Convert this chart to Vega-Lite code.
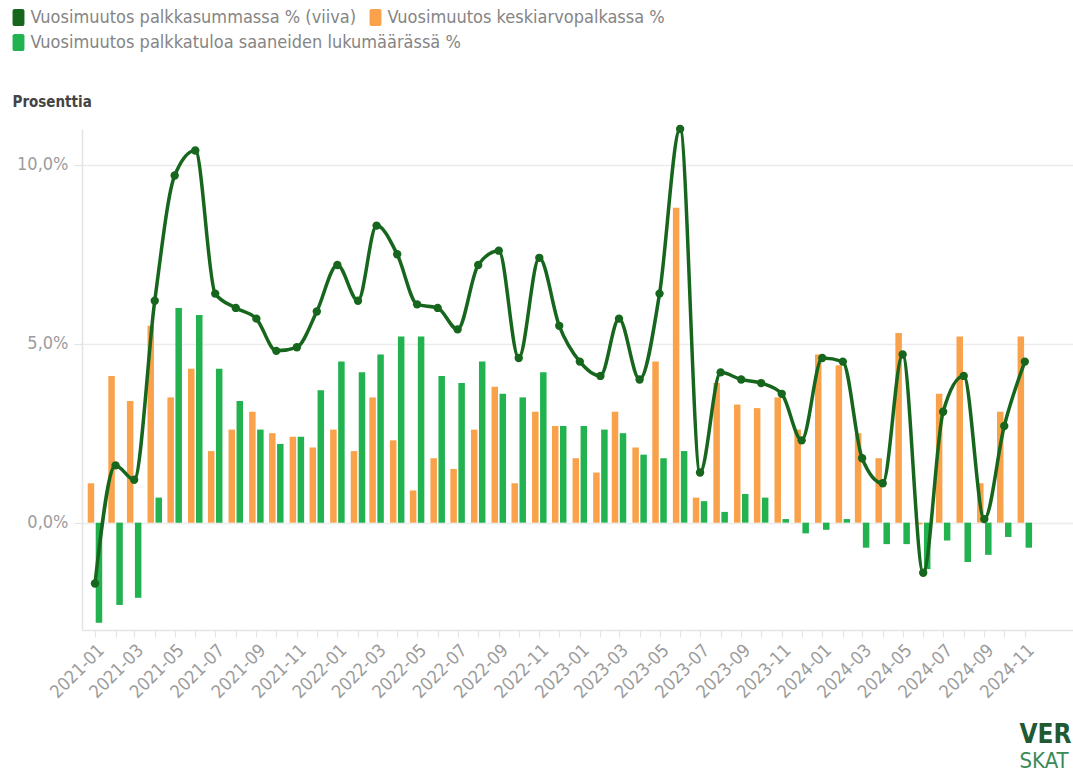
{
  "$schema": "https://vega.github.io/schema/vega-lite/v6.json",
  "autosize": "none",
  "width": 991,
  "height": 501,
  "padding": {"left": 82, "top": 129, "right": 0, "bottom": 148},
  "background": "white",
  "config": {
    "view": {"stroke": null},
    "font": "DejaVu Sans Condensed",
    "legend": {"title": null, "orient": "none", "direction": "horizontal", "columnPadding": 10,
      "symbolType": "M-0.45,-1H0.45A0.25,0.25,0,0,1,0.7,-0.75V0.75A0.25,0.25,0,0,1,0.45,1H-0.45A0.25,0.25,0,0,1,-0.7,0.75V-0.75A0.25,0.25,0,0,1,-0.45,-1Z",
      "symbolSize": 289, "symbolStrokeWidth": 0, "symbolOpacity": 1, "labelFont": "DejaVu Sans Condensed", "labelFontSize": 18, "labelColor": "#858585", "labelOffset": 3, "labelLimit": 800},
    "axis": {"gridColor": "#ececec", "gridWidth": 1.5, "domainColor": "#e4e4e4", "domainWidth": 1.5, "tickColor": "#e4e4e4", "tickWidth": 1.2, "labelFont": "DejaVu Sans Condensed", "labelFontSize": 18, "labelColor": "#9c9c9c"}
  },
  "title": {"text": "VER", "subtitle": "SKAT", "orient": "bottom", "anchor": "start", "dx": 1010, "offset": 20, "font": "DejaVu Sans Condensed", "fontWeight": "bold", "fontSize": 26, "color": "#1f5a32", "subtitleFont": "DejaVu Sans Condensed", "subtitleFontSize": 22, "subtitleColor": "#3a8a5a", "subtitlePadding": 3},
  "data": {
    "values": [
      {"m": "2021-01", "s": -1.7, "k": 1.1, "l": -2.8},
      {"m": "2021-02", "s": 1.6, "k": 4.1, "l": -2.3},
      {"m": "2021-03", "s": 1.2, "k": 3.4, "l": -2.1},
      {"m": "2021-04", "s": 6.2, "k": 5.5, "l": 0.7},
      {"m": "2021-05", "s": 9.7, "k": 3.5, "l": 6.0},
      {"m": "2021-06", "s": 10.4, "k": 4.3, "l": 5.8},
      {"m": "2021-07", "s": 6.4, "k": 2.0, "l": 4.3},
      {"m": "2021-08", "s": 6.0, "k": 2.6, "l": 3.4},
      {"m": "2021-09", "s": 5.7, "k": 3.1, "l": 2.6},
      {"m": "2021-10", "s": 4.8, "k": 2.5, "l": 2.2},
      {"m": "2021-11", "s": 4.9, "k": 2.4, "l": 2.4},
      {"m": "2021-12", "s": 5.9, "k": 2.1, "l": 3.7},
      {"m": "2022-01", "s": 7.2, "k": 2.6, "l": 4.5},
      {"m": "2022-02", "s": 6.2, "k": 2.0, "l": 4.2},
      {"m": "2022-03", "s": 8.3, "k": 3.5, "l": 4.7},
      {"m": "2022-04", "s": 7.5, "k": 2.3, "l": 5.2},
      {"m": "2022-05", "s": 6.1, "k": 0.9, "l": 5.2},
      {"m": "2022-06", "s": 6.0, "k": 1.8, "l": 4.1},
      {"m": "2022-07", "s": 5.4, "k": 1.5, "l": 3.9},
      {"m": "2022-08", "s": 7.2, "k": 2.6, "l": 4.5},
      {"m": "2022-09", "s": 7.6, "k": 3.8, "l": 3.6},
      {"m": "2022-10", "s": 4.6, "k": 1.1, "l": 3.5},
      {"m": "2022-11", "s": 7.4, "k": 3.1, "l": 4.2},
      {"m": "2022-12", "s": 5.5, "k": 2.7, "l": 2.7},
      {"m": "2023-01", "s": 4.5, "k": 1.8, "l": 2.7},
      {"m": "2023-02", "s": 4.1, "k": 1.4, "l": 2.6},
      {"m": "2023-03", "s": 5.7, "k": 3.1, "l": 2.5},
      {"m": "2023-04", "s": 4.0, "k": 2.1, "l": 1.9},
      {"m": "2023-05", "s": 6.4, "k": 4.5, "l": 1.8},
      {"m": "2023-06", "s": 11.0, "k": 8.8, "l": 2.0},
      {"m": "2023-07", "s": 1.4, "k": 0.7, "l": 0.6},
      {"m": "2023-08", "s": 4.2, "k": 3.9, "l": 0.3},
      {"m": "2023-09", "s": 4.0, "k": 3.3, "l": 0.8},
      {"m": "2023-10", "s": 3.9, "k": 3.2, "l": 0.7},
      {"m": "2023-11", "s": 3.6, "k": 3.5, "l": 0.1},
      {"m": "2023-12", "s": 2.3, "k": 2.6, "l": -0.3},
      {"m": "2024-01", "s": 4.6, "k": 4.7, "l": -0.2},
      {"m": "2024-02", "s": 4.5, "k": 4.4, "l": 0.1},
      {"m": "2024-03", "s": 1.8, "k": 2.5, "l": -0.7},
      {"m": "2024-04", "s": 1.1, "k": 1.8, "l": -0.6},
      {"m": "2024-05", "s": 4.7, "k": 5.3, "l": -0.6},
      {"m": "2024-06", "s": -1.4, "k": -0.05, "l": -1.3},
      {"m": "2024-07", "s": 3.1, "k": 3.6, "l": -0.5},
      {"m": "2024-08", "s": 4.1, "k": 5.2, "l": -1.1},
      {"m": "2024-09", "s": 0.1, "k": 1.1, "l": -0.9},
      {"m": "2024-10", "s": 2.7, "k": 3.1, "l": -0.4},
      {"m": "2024-11", "s": 4.5, "k": 5.2, "l": -0.7}
    ],
    "format": {"parse": {"m": "date:'%Y-%m'"}}
  },
  "encoding": {
    "x": {
      "field": "m", "type": "temporal",
      "scale": {"domain": [{"year": 2020, "month": 12, "date": 20}, {"year": 2025, "month": 1, "date": 5}]},
      "axis": {
        "title": null, "grid": false, "tickSize": 7, "labelAngle": -45, "labelAlign": "right", "labelBaseline": "top", "labelPadding": 4, "labelOverlap": false, "labelBound": false, "labelFlush": false,
        "values": [
          {"year": 2021, "month": 1, "date": 1}, {"year": 2021, "month": 2, "date": 1}, {"year": 2021, "month": 3, "date": 1}, {"year": 2021, "month": 4, "date": 1}, {"year": 2021, "month": 5, "date": 1}, {"year": 2021, "month": 6, "date": 1}, {"year": 2021, "month": 7, "date": 1}, {"year": 2021, "month": 8, "date": 1}, {"year": 2021, "month": 9, "date": 1}, {"year": 2021, "month": 10, "date": 1}, {"year": 2021, "month": 11, "date": 1}, {"year": 2021, "month": 12, "date": 1},
          {"year": 2022, "month": 1, "date": 1}, {"year": 2022, "month": 2, "date": 1}, {"year": 2022, "month": 3, "date": 1}, {"year": 2022, "month": 4, "date": 1}, {"year": 2022, "month": 5, "date": 1}, {"year": 2022, "month": 6, "date": 1}, {"year": 2022, "month": 7, "date": 1}, {"year": 2022, "month": 8, "date": 1}, {"year": 2022, "month": 9, "date": 1}, {"year": 2022, "month": 10, "date": 1}, {"year": 2022, "month": 11, "date": 1}, {"year": 2022, "month": 12, "date": 1},
          {"year": 2023, "month": 1, "date": 1}, {"year": 2023, "month": 2, "date": 1}, {"year": 2023, "month": 3, "date": 1}, {"year": 2023, "month": 4, "date": 1}, {"year": 2023, "month": 5, "date": 1}, {"year": 2023, "month": 6, "date": 1}, {"year": 2023, "month": 7, "date": 1}, {"year": 2023, "month": 8, "date": 1}, {"year": 2023, "month": 9, "date": 1}, {"year": 2023, "month": 10, "date": 1}, {"year": 2023, "month": 11, "date": 1}, {"year": 2023, "month": 12, "date": 1},
          {"year": 2024, "month": 1, "date": 1}, {"year": 2024, "month": 2, "date": 1}, {"year": 2024, "month": 3, "date": 1}, {"year": 2024, "month": 4, "date": 1}, {"year": 2024, "month": 5, "date": 1}, {"year": 2024, "month": 6, "date": 1}, {"year": 2024, "month": 7, "date": 1}, {"year": 2024, "month": 8, "date": 1}, {"year": 2024, "month": 9, "date": 1}, {"year": 2024, "month": 10, "date": 1}, {"year": 2024, "month": 11, "date": 1}
        ],
        "labelExpr": "month(datum.value) % 2 == 0 ? timeFormat(datum.value, '%Y-%m') : ''"
      }
    }
  },
  "layer": [
    {
      "mark": {"type": "bar", "width": 6.5, "xOffset": -4},
      "encoding": {
        "y": {"field": "k", "type": "quantitative",
          "scale": {"domain": [-3, 11], "nice": false, "zero": false},
          "axis": {"values": [0, 5, 10], "labelExpr": "replace(format(datum.value, '.1f'), '.', ',') + '%'", "tickSize": 8, "labelPadding": 6,
            "title": "Prosenttia", "titleAngle": 0, "titleAlign": "left", "titleBaseline": "middle", "titleX": -70, "titleY": -28, "titleFont": "DejaVu Sans Condensed", "titleFontWeight": "bold", "titleFontSize": 15, "titleColor": "#444444"}},
        "color": {"datum": "Vuosimuutos keskiarvopalkassa %", "type": "nominal",
          "scale": {"domain": ["Vuosimuutos palkkasummassa % (viiva)", "Vuosimuutos keskiarvopalkassa %"], "range": ["#17661d", "#f9a24b"]},
          "legend": {"legendX": -72.5, "legendY": -120.5,
            "encode": {"symbols": {"update": {"fill": {"scale": "color", "field": "value"}, "stroke": {"value": "transparent"}}}}}
        }
      }
    },
    {
      "mark": {"type": "bar", "width": 6.5, "xOffset": 4},
      "encoding": {
        "y": {"field": "l", "type": "quantitative"},
        "fill": {"datum": "Vuosimuutos palkkatuloa saaneiden lukumäärässä %", "type": "nominal",
          "scale": {"domain": ["Vuosimuutos palkkatuloa saaneiden lukumäärässä %"], "range": ["#22b24f"]},
          "legend": {"legendX": -72.5, "legendY": -95.5,
            "encode": {"symbols": {"update": {"fill": {"scale": "fill", "field": "value"}, "stroke": {"value": "transparent"}}}}}
        }
      }
    },
    {
      "mark": {"type": "line", "interpolate": "monotone", "strokeWidth": 3.5},
      "encoding": {
        "y": {"field": "s", "type": "quantitative"},
        "color": {"datum": "Vuosimuutos palkkasummassa % (viiva)", "type": "nominal"}
      }
    },
    {
      "mark": {"type": "point", "filled": true, "size": 70, "opacity": 1},
      "encoding": {
        "y": {"field": "s", "type": "quantitative"},
        "color": {"datum": "Vuosimuutos palkkasummassa % (viiva)", "type": "nominal"}
      }
    }
  ]
}
